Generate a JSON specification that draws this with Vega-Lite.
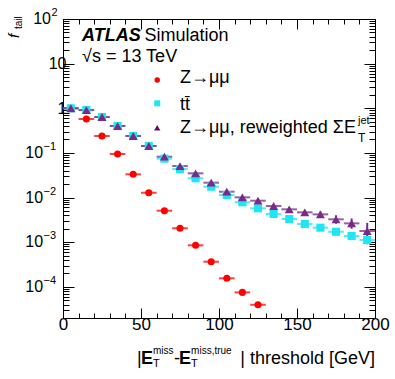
{
  "$schema": "https://vega.github.io/schema/vega-lite/v6.json",
  "width": 312,
  "height": 299,
  "autosize": {"type": "none"},
  "padding": {"left": 63, "top": 19, "right": 20, "bottom": 61},
  "background": "white",
  "config": {
    "view": {"stroke": "black", "strokeWidth": 1},
    "font": "Liberation Sans",
    "axis": {"domainColor": "black", "tickColor": "black", "labelColor": "black", "labelFont": "Liberation Sans", "grid": false, "title": null, "labelOverlap": false, "labelFlush": false}
  },
  "datasets": {
    "pts": [
      {"series": "zmm", "x": 5, "xlo": 0, "xhi": 10, "y": 1.0},
      {"series": "zmm", "x": 15, "xlo": 10, "xhi": 20, "y": 0.574},
      {"series": "zmm", "x": 25, "xlo": 20, "xhi": 30, "y": 0.239},
      {"series": "zmm", "x": 35, "xlo": 30, "xhi": 40, "y": 0.0944},
      {"series": "zmm", "x": 45, "xlo": 40, "xhi": 50, "y": 0.0331},
      {"series": "zmm", "x": 55, "xlo": 50, "xhi": 60, "y": 0.0128},
      {"series": "zmm", "x": 65, "xlo": 60, "xhi": 70, "y": 0.00507},
      {"series": "zmm", "x": 75, "xlo": 70, "xhi": 80, "y": 0.00205},
      {"series": "zmm", "x": 85, "xlo": 80, "xhi": 90, "y": 0.00085},
      {"series": "zmm", "x": 95, "xlo": 90, "xhi": 100, "y": 0.000365},
      {"series": "zmm", "x": 105, "xlo": 100, "xhi": 110, "y": 0.000155},
      {"series": "zmm", "x": 115, "xlo": 110, "xhi": 120, "y": 0.000075},
      {"series": "zmm", "x": 125, "xlo": 120, "xhi": 130, "y": 0.0000396},
      {"series": "tt", "x": 5, "xlo": 0, "xhi": 10, "y": 1.0},
      {"series": "tt", "x": 15, "xlo": 10, "xhi": 20, "y": 0.92},
      {"series": "tt", "x": 25, "xlo": 20, "xhi": 30, "y": 0.637},
      {"series": "tt", "x": 35, "xlo": 30, "xhi": 40, "y": 0.40},
      {"series": "tt", "x": 45, "xlo": 40, "xhi": 50, "y": 0.239},
      {"series": "tt", "x": 55, "xlo": 50, "xhi": 60, "y": 0.1427},
      {"series": "tt", "x": 65, "xlo": 60, "xhi": 70, "y": 0.0742},
      {"series": "tt", "x": 75, "xlo": 70, "xhi": 80, "y": 0.0435},
      {"series": "tt", "x": 85, "xlo": 80, "xhi": 90, "y": 0.027},
      {"series": "tt", "x": 95, "xlo": 90, "xhi": 100, "y": 0.01746},
      {"series": "tt", "x": 105, "xlo": 100, "xhi": 110, "y": 0.01137},
      {"series": "tt", "x": 115, "xlo": 110, "xhi": 120, "y": 0.00781},
      {"series": "tt", "x": 125, "xlo": 120, "xhi": 130, "y": 0.00573},
      {"series": "tt", "x": 135, "xlo": 130, "xhi": 140, "y": 0.00428},
      {"series": "tt", "x": 145, "xlo": 140, "xhi": 150, "y": 0.0033},
      {"series": "tt", "x": 155, "xlo": 150, "xhi": 160, "y": 0.00255},
      {"series": "tt", "x": 165, "xlo": 160, "xhi": 170, "y": 0.00211},
      {"series": "tt", "x": 175, "xlo": 170, "xhi": 180, "y": 0.00171},
      {"series": "tt", "x": 185, "xlo": 180, "xhi": 190, "y": 0.00137},
      {"series": "tt", "x": 195, "xlo": 190, "xhi": 200, "y": 0.00112},
      {"series": "zrw", "x": 5, "xlo": 0, "xhi": 10, "y": 1.0},
      {"series": "zrw", "x": 15, "xlo": 10, "xhi": 20, "y": 0.91},
      {"series": "zrw", "x": 25, "xlo": 20, "xhi": 30, "y": 0.637},
      {"series": "zrw", "x": 35, "xlo": 30, "xhi": 40, "y": 0.40},
      {"series": "zrw", "x": 45, "xlo": 40, "xhi": 50, "y": 0.239},
      {"series": "zrw", "x": 55, "xlo": 50, "xhi": 60, "y": 0.1427},
      {"series": "zrw", "x": 65, "xlo": 60, "xhi": 70, "y": 0.0822},
      {"series": "zrw", "x": 75, "xlo": 70, "xhi": 80, "y": 0.0508},
      {"series": "zrw", "x": 85, "xlo": 80, "xhi": 90, "y": 0.0349},
      {"series": "zrw", "x": 95, "xlo": 90, "xhi": 100, "y": 0.0215},
      {"series": "zrw", "x": 105, "xlo": 100, "xhi": 110, "y": 0.0135},
      {"series": "zrw", "x": 115, "xlo": 110, "xhi": 120, "y": 0.0101},
      {"series": "zrw", "x": 125, "xlo": 120, "xhi": 130, "y": 0.00849, "ylo": 0.0079, "yhi": 0.0091},
      {"series": "zrw", "x": 135, "xlo": 130, "xhi": 140, "y": 0.00646, "ylo": 0.0059, "yhi": 0.0071},
      {"series": "zrw", "x": 145, "xlo": 140, "xhi": 150, "y": 0.00544, "ylo": 0.0049, "yhi": 0.0060},
      {"series": "zrw", "x": 155, "xlo": 150, "xhi": 160, "y": 0.00466, "ylo": 0.0041, "yhi": 0.0053},
      {"series": "zrw", "x": 165, "xlo": 160, "xhi": 170, "y": 0.0042, "ylo": 0.0036, "yhi": 0.0049},
      {"series": "zrw", "x": 175, "xlo": 170, "xhi": 180, "y": 0.00325, "ylo": 0.0026, "yhi": 0.0040},
      {"series": "zrw", "x": 185, "xlo": 180, "xhi": 190, "y": 0.00264, "ylo": 0.0020, "yhi": 0.0034},
      {"series": "zrw", "x": 195, "xlo": 190, "xhi": 200, "y": 0.00178, "ylo": 0.0009, "yhi": 0.0027}
    ],
    "notes": [
      {"role": "atlas", "label": "ATLAS"},
      {"role": "sim", "label": "Simulation"},
      {"role": "sqrts", "label": "√s = 13 TeV"},
      {"role": "leg1", "label": "Z→μμ"},
      {"role": "leg2", "label": "tt̄"},
      {"role": "leg3", "label": "Z→μμ, reweighted ΣE"},
      {"role": "leg3sup", "label": "jet"},
      {"role": "leg3sub", "label": "T"},
      {"role": "xbar1", "label": "|"},
      {"role": "xE1", "label": "E"},
      {"role": "xsup1", "label": "miss"},
      {"role": "xsub1", "label": "T"},
      {"role": "xdash", "label": "-"},
      {"role": "xE2", "label": "E"},
      {"role": "xsup2", "label": "miss,true"},
      {"role": "xsub2", "label": "T"},
      {"role": "xrest", "label": "| threshold [GeV]"},
      {"role": "yf", "label": "f"},
      {"role": "ytail", "label": "tail"}
    ],
    "decades": [
      {"v": 0.0001, "base": "10", "exp": "−4"},
      {"v": 0.001, "base": "10", "exp": "−3"},
      {"v": 0.01, "base": "10", "exp": "−2"},
      {"v": 0.1, "base": "10", "exp": "−1"},
      {"v": 100, "base": "10", "exp": "2"}
    ],
    "legend": [
      {"series": "zmm"},
      {"series": "tt"},
      {"series": "zrw"}
    ]
  },
  "resolve": {"axis": {"x": "independent", "y": "independent"}},
  "layer": [
    {
      "data": {"name": "pts"},
      "mark": {"type": "rule", "strokeWidth": 2, "opacity": 0.75},
      "encoding": {
        "x": {"field": "xlo", "type": "quantitative", "scale": {"domain": [0, 200], "nice": false, "zero": false},
          "axis": {"orient": "bottom", "values": [0,10,20,30,40,50,60,70,80,90,100,110,120,130,140,150,160,170,180,190,200],
            "labelExpr": "datum.value % 50 == 0 ? datum.label : ''",
            "tickSize": {"condition": {"test": "datum.value % 50 == 0", "value": -10}, "value": -5},
            "labelPadding": 8, "labelFontSize": 17}},
        "x2": {"field": "xhi"},
        "y": {"field": "y", "type": "quantitative", "scale": {"type": "log", "domain": [0.00002, 100], "nice": false},
          "axis": {"orient": "left",
            "values": [0.00002,0.00003,0.00004,0.00005,0.00006,0.00007,0.00008,0.00009,0.0001,0.0002,0.0003,0.0004,0.0005,0.0006,0.0007,0.0008,0.0009,0.001,0.002,0.003,0.004,0.005,0.006,0.007,0.008,0.009,0.01,0.02,0.03,0.04,0.05,0.06,0.07,0.08,0.09,0.1,0.2,0.3,0.4,0.5,0.6,0.7,0.8,0.9,1,2,3,4,5,6,7,8,9,10,20,30,40,50,60,70,80,90,100],
            "labelExpr": "abs(datum.value - 1) < 1e-9 ? '1' : (abs(datum.value - 10) < 1e-9 ? '10' : '')",
            "tickSize": {"condition": {"test": "abs(log(datum.value)/LN10 - round(log(datum.value)/LN10)) < 1e-6", "value": -11}, "value": -6},
            "labelPadding": 8, "labelFontSize": 16}},
        "color": {"field": "series", "type": "nominal", "scale": {"domain": ["zmm", "tt", "zrw"], "range": ["#ff0000", "#1ee6f2", "#7a2a88"]}, "legend": null}
      }
    },
    {
      "data": {"name": "pts"},
      "transform": [{"filter": "isValid(datum.ylo)"}],
      "mark": {"type": "rule", "strokeWidth": 2},
      "encoding": {
        "x": {"field": "x", "type": "quantitative", "scale": {"domain": [0, 200], "nice": false, "zero": false}, "axis": null},
        "y": {"field": "ylo", "type": "quantitative", "scale": {"type": "log", "domain": [0.00002, 100], "nice": false}, "axis": null},
        "y2": {"field": "yhi"},
        "color": {"field": "series", "type": "nominal", "legend": null}
      }
    },
    {
      "data": {"name": "pts"},
      "mark": {"type": "point", "filled": true, "opacity": 1},
      "encoding": {
        "x": {"field": "x", "type": "quantitative", "scale": {"domain": [0, 200], "nice": false, "zero": false},
          "axis": {"orient": "top", "labels": false, "values": [0,10,20,30,40,50,60,70,80,90,100,110,120,130,140,150,160,170,180,190,200],
            "tickSize": {"condition": {"test": "datum.value % 50 == 0", "value": -10}, "value": -5}}},
        "y": {"field": "y", "type": "quantitative", "scale": {"type": "log", "domain": [0.00002, 100], "nice": false},
          "axis": {"orient": "right", "labels": false,
            "values": [0.00002,0.00003,0.00004,0.00005,0.00006,0.00007,0.00008,0.00009,0.0001,0.0002,0.0003,0.0004,0.0005,0.0006,0.0007,0.0008,0.0009,0.001,0.002,0.003,0.004,0.005,0.006,0.007,0.008,0.009,0.01,0.02,0.03,0.04,0.05,0.06,0.07,0.08,0.09,0.1,0.2,0.3,0.4,0.5,0.6,0.7,0.8,0.9,1,2,3,4,5,6,7,8,9,10,20,30,40,50,60,70,80,90,100],
            "tickSize": {"condition": {"test": "abs(log(datum.value)/LN10 - round(log(datum.value)/LN10)) < 1e-6", "value": -11}, "value": -6}}},
        "color": {"field": "series", "type": "nominal", "scale": {"domain": ["zmm", "tt", "zrw"], "range": ["#ff0000", "#1ee6f2", "#5e0a6e"]}, "legend": null},
        "shape": {"field": "series", "type": "nominal", "scale": {"domain": ["zmm", "tt", "zrw"], "range": ["circle", "square", "triangle-up"]}, "legend": null},
        "size": {"field": "series", "type": "nominal", "scale": {"domain": ["zmm", "tt", "zrw"], "range": [50, 81, 70]}, "legend": null}
      }
    },
    {
      "data": {"name": "decades"},
      "transform": [{"filter": "datum.v < 1"}],
      "mark": {"type": "text", "align": "right", "baseline": "middle", "fontSize": 16, "color": "black", "clip": false},
      "encoding": {"text": {"field": "base"},
        "x": {"datum": -12.8, "type": "quantitative", "scale": {"domain": [0, 200], "nice": false, "zero": false}, "axis": null},
        "y": {"field": "v", "type": "quantitative", "scale": {"type": "log", "domain": [0.00002, 100], "nice": false}, "axis": null}}
    },
    {
      "data": {"name": "decades"},
      "transform": [{"filter": "datum.v < 1"}],
      "mark": {"type": "text", "align": "left", "baseline": "middle", "fontSize": 11, "dy": -6, "color": "black", "clip": false},
      "encoding": {"text": {"field": "exp"},
        "x": {"datum": -12.5, "type": "quantitative", "scale": {"domain": [0, 200], "nice": false, "zero": false}, "axis": null},
        "y": {"field": "v", "type": "quantitative", "scale": {"type": "log", "domain": [0.00002, 100], "nice": false}, "axis": null}}
    },
    {
      "data": {"name": "decades"},
      "transform": [{"filter": "datum.v > 10"}],
      "mark": {"type": "text", "align": "right", "baseline": "middle", "fontSize": 16, "color": "black", "clip": false},
      "encoding": {"text": {"field": "base"},
        "x": {"datum": -7.7, "type": "quantitative", "scale": {"domain": [0, 200], "nice": false, "zero": false}, "axis": null},
        "y": {"field": "v", "type": "quantitative", "scale": {"type": "log", "domain": [0.00002, 100], "nice": false}, "axis": null}}
    },
    {
      "data": {"name": "decades"},
      "transform": [{"filter": "datum.v > 10"}],
      "mark": {"type": "text", "align": "left", "baseline": "middle", "fontSize": 11, "dy": -6, "color": "black", "clip": false},
      "encoding": {"text": {"field": "exp"},
        "x": {"datum": -7.4, "type": "quantitative", "scale": {"domain": [0, 200], "nice": false, "zero": false}, "axis": null},
        "y": {"field": "v", "type": "quantitative", "scale": {"type": "log", "domain": [0.00002, 100], "nice": false}, "axis": null}}
    },
    {
      "data": {"name": "legend"},
      "transform": [{"filter": "datum.series == 'zmm'"}],
      "mark": {"type": "point", "filled": true, "opacity": 1, "shape": "circle", "size": 30, "color": "#ff0000"},
      "encoding": {
        "x": {"datum": 60.4, "type": "quantitative", "scale": {"domain": [0, 200], "nice": false, "zero": false}, "axis": null},
        "y": {"datum": 4.3, "type": "quantitative", "scale": {"type": "log", "domain": [0.00002, 100], "nice": false}, "axis": null}
      }
    },
    {
      "data": {"name": "legend"},
      "transform": [{"filter": "datum.series == 'tt'"}],
      "mark": {"type": "point", "filled": true, "opacity": 1, "shape": "square", "size": 36, "color": "#1ee6f2"},
      "encoding": {
        "x": {"datum": 60.4, "type": "quantitative", "scale": {"domain": [0, 200], "nice": false, "zero": false}, "axis": null},
        "y": {"datum": 1.29, "type": "quantitative", "scale": {"type": "log", "domain": [0.00002, 100], "nice": false}, "axis": null}
      }
    },
    {
      "data": {"name": "legend"},
      "transform": [{"filter": "datum.series == 'zrw'"}],
      "mark": {"type": "point", "filled": true, "opacity": 1, "shape": "triangle-up", "size": 40, "color": "#5e0a6e"},
      "encoding": {
        "x": {"datum": 60.4, "type": "quantitative", "scale": {"domain": [0, 200], "nice": false, "zero": false}, "axis": null},
        "y": {"datum": 0.367, "type": "quantitative", "scale": {"type": "log", "domain": [0.00002, 100], "nice": false}, "axis": null}
      }
    },
    {"data": {"name": "notes"}, "transform": [{"filter": "datum.role == 'atlas'"}],
      "mark": {"type": "text", "align": "left", "baseline": "alphabetic", "fontSize": 18, "fontWeight": "bold", "fontStyle": "italic", "color": "black", "clip": false},
      "encoding": {"text": {"field": "label"},
        "x": {"datum": 12.2, "type": "quantitative", "scale": {"domain": [0, 200], "nice": false, "zero": false}, "axis": null},
        "y": {"datum": 32.1, "type": "quantitative", "scale": {"type": "log", "domain": [0.00002, 100], "nice": false}, "axis": null}}},
    {"data": {"name": "notes"}, "transform": [{"filter": "datum.role == 'sim'"}],
      "mark": {"type": "text", "align": "left", "baseline": "alphabetic", "fontSize": 18, "color": "black", "clip": false},
      "encoding": {"text": {"field": "label"},
        "x": {"datum": 52.2, "type": "quantitative", "scale": {"domain": [0, 200], "nice": false, "zero": false}, "axis": null},
        "y": {"datum": 32.1, "type": "quantitative", "scale": {"type": "log", "domain": [0.00002, 100], "nice": false}, "axis": null}}},
    {"data": {"name": "notes"}, "transform": [{"filter": "datum.role == 'sqrts'"}],
      "mark": {"type": "text", "align": "left", "baseline": "alphabetic", "fontSize": 18, "color": "black", "clip": false},
      "encoding": {"text": {"field": "label"},
        "x": {"datum": 12.2, "type": "quantitative", "scale": {"domain": [0, 200], "nice": false, "zero": false}, "axis": null},
        "y": {"datum": 10.88, "type": "quantitative", "scale": {"type": "log", "domain": [0.00002, 100], "nice": false}, "axis": null}}},
    {"data": {"name": "notes"}, "transform": [{"filter": "datum.role == 'leg1'"}],
      "mark": {"type": "text", "align": "left", "baseline": "alphabetic", "fontSize": 18, "color": "black", "clip": false},
      "encoding": {"text": {"field": "label"},
        "x": {"datum": 75, "type": "quantitative", "scale": {"domain": [0, 200], "nice": false, "zero": false}, "axis": null},
        "y": {"datum": 3.68, "type": "quantitative", "scale": {"type": "log", "domain": [0.00002, 100], "nice": false}, "axis": null}}},
    {"data": {"name": "notes"}, "transform": [{"filter": "datum.role == 'leg2'"}],
      "mark": {"type": "text", "align": "left", "baseline": "alphabetic", "fontSize": 18, "color": "black", "clip": false},
      "encoding": {"text": {"field": "label"},
        "x": {"datum": 75, "type": "quantitative", "scale": {"domain": [0, 200], "nice": false, "zero": false}, "axis": null},
        "y": {"datum": 0.914, "type": "quantitative", "scale": {"type": "log", "domain": [0.00002, 100], "nice": false}, "axis": null}}},
    {"data": {"name": "notes"}, "transform": [{"filter": "datum.role == 'leg3'"}],
      "mark": {"type": "text", "align": "left", "baseline": "alphabetic", "fontSize": 18, "color": "black", "clip": false},
      "encoding": {"text": {"field": "label"},
        "x": {"datum": 75, "type": "quantitative", "scale": {"domain": [0, 200], "nice": false, "zero": false}, "axis": null},
        "y": {"datum": 0.279, "type": "quantitative", "scale": {"type": "log", "domain": [0.00002, 100], "nice": false}, "axis": null}}},
    {"data": {"name": "notes"}, "transform": [{"filter": "datum.role == 'leg3sup'"}],
      "mark": {"type": "text", "align": "left", "baseline": "alphabetic", "fontSize": 11, "color": "black", "clip": false},
      "encoding": {"text": {"field": "label"},
        "x": {"datum": 189.1, "type": "quantitative", "scale": {"domain": [0, 200], "nice": false, "zero": false}, "axis": null},
        "y": {"datum": 0.443, "type": "quantitative", "scale": {"type": "log", "domain": [0.00002, 100], "nice": false}, "axis": null}}},
    {"data": {"name": "notes"}, "transform": [{"filter": "datum.role == 'leg3sub'"}],
      "mark": {"type": "text", "align": "left", "baseline": "alphabetic", "fontSize": 12, "color": "black", "clip": false},
      "encoding": {"text": {"field": "label"},
        "x": {"datum": 189.1, "type": "quantitative", "scale": {"domain": [0, 200], "nice": false, "zero": false}, "axis": null},
        "y": {"datum": 0.1754, "type": "quantitative", "scale": {"type": "log", "domain": [0.00002, 100], "nice": false}, "axis": null}}},
    {"data": {"name": "notes"}, "transform": [{"filter": "datum.role == 'xbar1'"}],
      "mark": {"type": "text", "align": "left", "baseline": "alphabetic", "fontSize": 18, "color": "black", "clip": false},
      "encoding": {"text": {"field": "label"},
        "x": {"datum": 47.4, "type": "quantitative", "scale": {"domain": [0, 200], "nice": false, "zero": false}, "axis": null},
        "y": {"datum": 0.000001862, "type": "quantitative", "scale": {"type": "log", "domain": [0.00002, 100], "nice": false}, "axis": null}}},
    {"data": {"name": "notes"}, "transform": [{"filter": "datum.role == 'xE1'"}],
      "mark": {"type": "text", "align": "left", "baseline": "alphabetic", "fontSize": 18, "fontWeight": "bold", "color": "black", "clip": false},
      "encoding": {"text": {"field": "label"},
        "x": {"datum": 50.0, "type": "quantitative", "scale": {"domain": [0, 200], "nice": false, "zero": false}, "axis": null},
        "y": {"datum": 0.000001862, "type": "quantitative", "scale": {"type": "log", "domain": [0.00002, 100], "nice": false}, "axis": null}}},
    {"data": {"name": "notes"}, "transform": [{"filter": "datum.role == 'xsup1'"}],
      "mark": {"type": "text", "align": "left", "baseline": "alphabetic", "fontSize": 10, "color": "black", "clip": false},
      "encoding": {"text": {"field": "label"},
        "x": {"datum": 57.7, "type": "quantitative", "scale": {"domain": [0, 200], "nice": false, "zero": false}, "axis": null},
        "y": {"datum": 0.00000318, "type": "quantitative", "scale": {"type": "log", "domain": [0.00002, 100], "nice": false}, "axis": null}}},
    {"data": {"name": "notes"}, "transform": [{"filter": "datum.role == 'xsub1'"}],
      "mark": {"type": "text", "align": "left", "baseline": "alphabetic", "fontSize": 11, "color": "black", "clip": false},
      "encoding": {"text": {"field": "label"},
        "x": {"datum": 57.7, "type": "quantitative", "scale": {"domain": [0, 200], "nice": false, "zero": false}, "axis": null},
        "y": {"datum": 0.00000158, "type": "quantitative", "scale": {"type": "log", "domain": [0.00002, 100], "nice": false}, "axis": null}}},
    {"data": {"name": "notes"}, "transform": [{"filter": "datum.role == 'xdash'"}],
      "mark": {"type": "text", "align": "left", "baseline": "alphabetic", "fontSize": 18, "color": "black", "clip": false},
      "encoding": {"text": {"field": "label"},
        "x": {"datum": 71.2, "type": "quantitative", "scale": {"domain": [0, 200], "nice": false, "zero": false}, "axis": null},
        "y": {"datum": 0.000001862, "type": "quantitative", "scale": {"type": "log", "domain": [0.00002, 100], "nice": false}, "axis": null}}},
    {"data": {"name": "notes"}, "transform": [{"filter": "datum.role == 'xE2'"}],
      "mark": {"type": "text", "align": "left", "baseline": "alphabetic", "fontSize": 18, "fontWeight": "bold", "color": "black", "clip": false},
      "encoding": {"text": {"field": "label"},
        "x": {"datum": 74.4, "type": "quantitative", "scale": {"domain": [0, 200], "nice": false, "zero": false}, "axis": null},
        "y": {"datum": 0.000001862, "type": "quantitative", "scale": {"type": "log", "domain": [0.00002, 100], "nice": false}, "axis": null}}},
    {"data": {"name": "notes"}, "transform": [{"filter": "datum.role == 'xsup2'"}],
      "mark": {"type": "text", "align": "left", "baseline": "alphabetic", "fontSize": 10, "color": "black", "clip": false},
      "encoding": {"text": {"field": "label"},
        "x": {"datum": 82.1, "type": "quantitative", "scale": {"domain": [0, 200], "nice": false, "zero": false}, "axis": null},
        "y": {"datum": 0.00000318, "type": "quantitative", "scale": {"type": "log", "domain": [0.00002, 100], "nice": false}, "axis": null}}},
    {"data": {"name": "notes"}, "transform": [{"filter": "datum.role == 'xsub2'"}],
      "mark": {"type": "text", "align": "left", "baseline": "alphabetic", "fontSize": 11, "color": "black", "clip": false},
      "encoding": {"text": {"field": "label"},
        "x": {"datum": 82.1, "type": "quantitative", "scale": {"domain": [0, 200], "nice": false, "zero": false}, "axis": null},
        "y": {"datum": 0.00000158, "type": "quantitative", "scale": {"type": "log", "domain": [0.00002, 100], "nice": false}, "axis": null}}},
    {"data": {"name": "notes"}, "transform": [{"filter": "datum.role == 'xrest'"}],
      "mark": {"type": "text", "align": "right", "baseline": "alphabetic", "fontSize": 18, "color": "black", "clip": false},
      "encoding": {"text": {"field": "label"},
        "x": {"datum": 200, "type": "quantitative", "scale": {"domain": [0, 200], "nice": false, "zero": false}, "axis": null},
        "y": {"datum": 0.000001862, "type": "quantitative", "scale": {"type": "log", "domain": [0.00002, 100], "nice": false}, "axis": null}}},
    {"data": {"name": "notes"}, "transform": [{"filter": "datum.role == 'yf'"}],
      "mark": {"type": "text", "align": "left", "baseline": "alphabetic", "fontSize": 15, "fontStyle": "italic", "angle": 270, "color": "black", "clip": false},
      "encoding": {"text": {"field": "label"},
        "x": {"datum": -28.2, "type": "quantitative", "scale": {"domain": [0, 200], "nice": false, "zero": false}, "axis": null},
        "y": {"datum": 37.5, "type": "quantitative", "scale": {"type": "log", "domain": [0.00002, 100], "nice": false}, "axis": null}}},
    {"data": {"name": "notes"}, "transform": [{"filter": "datum.role == 'ytail'"}],
      "mark": {"type": "text", "align": "left", "baseline": "alphabetic", "fontSize": 10, "angle": 270, "color": "black", "clip": false},
      "encoding": {"text": {"field": "label"},
        "x": {"datum": -26.3, "type": "quantitative", "scale": {"domain": [0, 200], "nice": false, "zero": false}, "axis": null},
        "y": {"datum": 59.7, "type": "quantitative", "scale": {"type": "log", "domain": [0.00002, 100], "nice": false}, "axis": null}}}
  ]
}
